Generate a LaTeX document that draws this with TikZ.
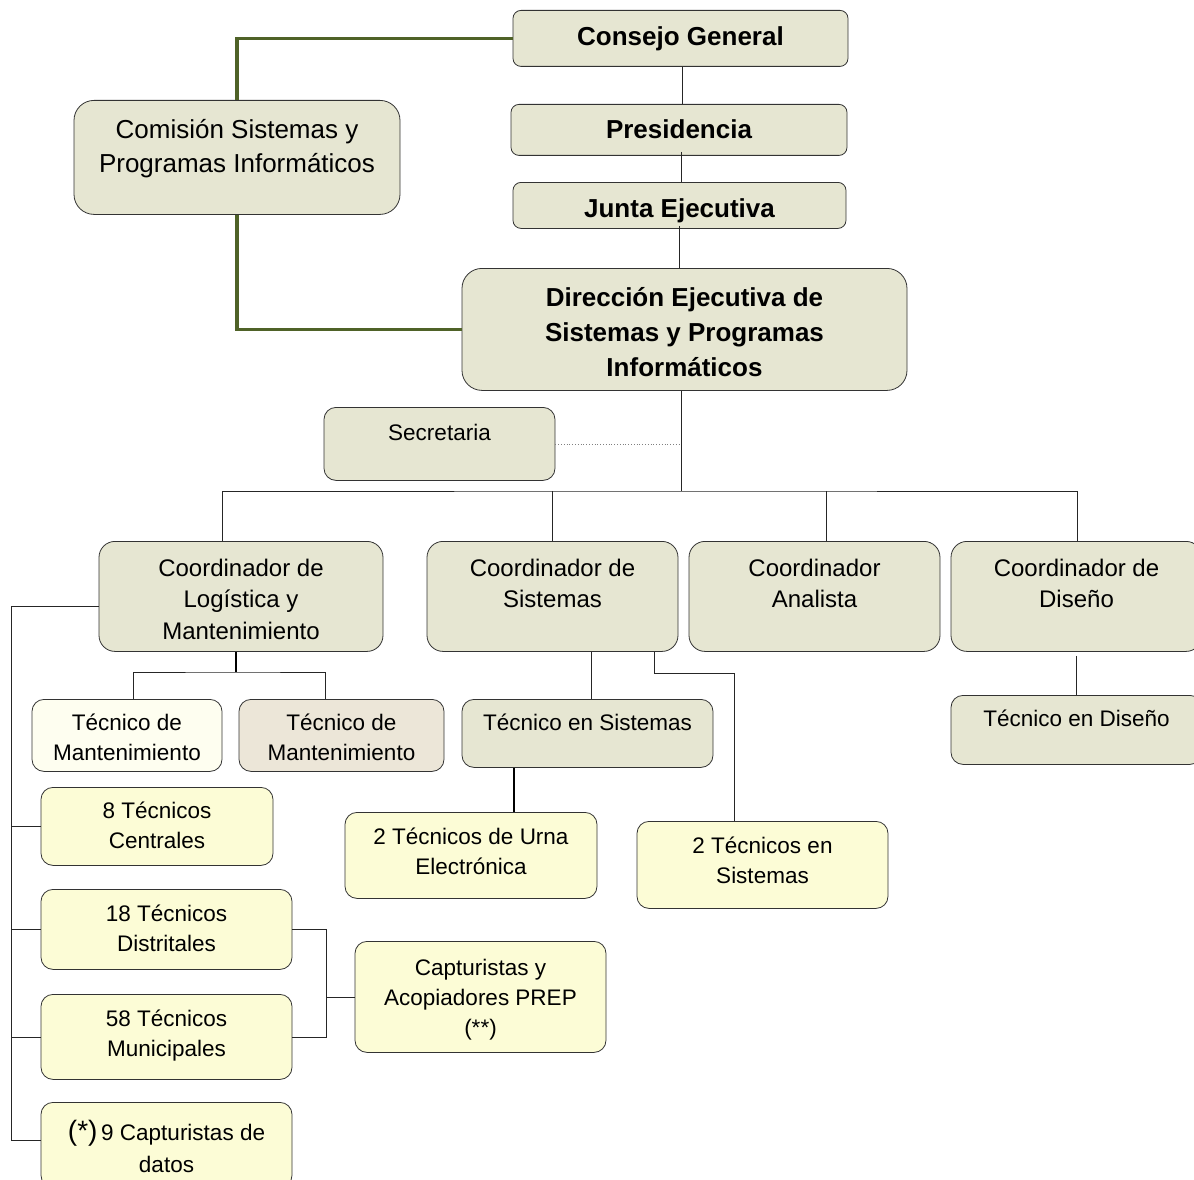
\documentclass[tikz,border=0pt]{standalone}
\usepackage{fontspec}
\setmainfont{Liberation Sans}
\usepackage{xcolor}
\definecolor{boxgray}{RGB}{230,230,210}
\definecolor{boxyel}{RGB}{252,252,214}
\definecolor{mantA}{RGB}{254,254,240}
\definecolor{mantB}{RGB}{236,230,216}
\definecolor{lnkgreen}{RGB}{79,98,40}
\tikzset{
  orgbox/.style={draw=black!80, line width=0.8pt, rounded corners=12pt, fill=boxgray,
    align=center, anchor=north, inner xsep=0pt, inner ysep=0pt},
  topbox/.style={orgbox, rounded corners=8pt, font=\fontsize{26}{34}\selectfont\bfseries},
  coordbox/.style={orgbox, rounded corners=16pt, font=\fontsize{24}{31.5}\selectfont, text height=66.5pt, text depth=43.5pt, minimum width=251pt},
  lowbox/.style={orgbox, font=\fontsize{22.5}{30}\selectfont},
  yelbox/.style={lowbox, fill=boxyel, minimum width=251pt},
  thin link/.style={draw=black!85, line width=0.8pt},
  green link/.style={draw=lnkgreen, line width=3.5pt}
}
\begin{document}
\begin{tikzpicture}[x=1pt,y=1pt,yscale=-1]
\useasboundingbox (0,0) rectangle (1194,1180);
\clip (0,0) rectangle (1194,1180);

% Top boxes
\node[topbox, minimum width=335pt, text height=35pt, text depth=21pt] (consejo) at (680.5,10) {Consejo General};
\node[topbox, minimum width=336pt, text height=34pt, text depth=17pt] (presid) at (679,104) {Presidencia};
\node[topbox, minimum width=333pt, text height=35pt, text depth=11pt] (junta) at (679.5,182) {Junta Ejecutiva};
\node[orgbox, rounded corners=20pt, font=\fontsize{26}{34}\selectfont, minimum width=326pt, text height=72pt, text depth=42pt] (comis) at (237,100) {Comisión Sistemas y\\Programas Informáticos};
\node[topbox, rounded corners=20pt, font=\fontsize{26}{35}\selectfont\bfseries, minimum width=445pt, text height=108pt, text depth=14pt] (direc) at (684.5,268) {Dirección Ejecutiva de\\Sistemas y Programas\\Informáticos};
\node[lowbox, minimum width=231pt, text height=33pt, text depth=40pt] (secr) at (439.5,407) {Secretaria};

% Coordinadores
\node[coordbox, minimum width=284pt, text height=98pt, text depth=12pt] (clog) at (241,541) {Coordinador de\\Logística y\\Mantenimiento};
\node[coordbox] (csis) at (552.5,541) {Coordinador de\\Sistemas};
\node[coordbox] (cana) at (814.5,541) {Coordinador\\Analista};
\node[coordbox] (cdis) at (1076.5,541) {Coordinador de\\Diseño};

% Tecnicos
\node[lowbox, fill=mantA, minimum width=190pt, text height=61pt, text depth=11pt] (tm1) at (127,699) {Técnico de\\Mantenimiento};
\node[lowbox, fill=mantB, minimum width=205pt, text height=61pt, text depth=11pt] (tm2) at (341.5,699) {Técnico de\\Mantenimiento};
\node[lowbox, minimum width=251pt, text height=31pt, text depth=37pt] (tsis) at (587.5,699) {Técnico en Sistemas};
\node[lowbox, minimum width=251pt, text height=31pt, text depth=38pt] (tdis) at (1076.5,695) {Técnico en Diseño};
\node[yelbox, minimum width=232pt, text height=61pt, text depth=17pt] (c8) at (157,787) {8 Técnicos\\Centrales};
\node[yelbox, minimum width=252pt, text height=62pt, text depth=24pt] (urna) at (471,812) {2 Técnicos de Urna\\Electrónica};
\node[yelbox, text height=62pt, text depth=25pt] (c2s) at (762.5,821) {2 Técnicos en\\Sistemas};
\node[yelbox, text height=62pt, text depth=18pt] (c18) at (166.5,889) {18 Técnicos\\Distritales};
\node[yelbox, text height=94pt, text depth=17pt] (prep) at (480.5,941) {Capturistas y\\Acopiadores PREP\\(**)};
\node[yelbox, text height=62pt, text depth=23pt] (c58) at (166.5,994) {58 Técnicos\\Municipales};
\node[yelbox, font=\fontsize{22.5}{32}\selectfont, text height=70pt, text depth=15pt] (c9) at (166.5,1102) {{\fontsize{28}{30}\selectfont(*)}\,9 Capturistas de\\datos};

% Green links
\draw[green link] (consejo.west) -| (comis.north);
\draw[green link] (comis.south) |- (direc.west);

% Top chain
\draw[thin link] (consejo.south -| 682,0) -- (presid.north -| 682,0);
\draw[thin link] ([yshift=-4pt]presid.south -| 681,0) -- (junta.north -| 681,0);
\draw[thin link] ([yshift=-3pt]junta.south -| 679,0) -- (direc.north -| 679,0);
\draw[thin link] (direc.south -| 681,0) -- (681,491) coordinate (bus);
\draw[thin link, dotted, draw=gray] (secr.east) -- (secr.east -| bus);

% Bus to coordinadores
\draw[thin link] ([xshift=-19pt]clog.north) |- (bus) -| ([xshift=0.5pt]cdis.north);
\draw[thin link] (csis.north) -- (csis.north |- bus);
\draw[thin link] ([xshift=11.5pt]cana.north) -- ([xshift=11.5pt]cana.north |- bus);

% Logistica
\draw[line width=2pt] (clog.south -| 236,0) -- (236,672) coordinate (lm);
\draw[thin link] ([xshift=6pt]tm1.north) |- (lm) -| ([xshift=-16.5pt]tm2.north);
\coordinate (lbus) at (11,1140);
\draw[thin link] ([yshift=10pt]clog.west) -| (lbus) -- (c9.west |- lbus);
\foreach \n in {c8,c18,c58}
  \draw[thin link] (\n.west) -- (\n.west -| lbus);

% Sistemas
\draw[thin link] (csis.south -| 591,0) -- (tsis.north -| 591,0);
\draw[thin link] (csis.south -| 654,0) |- (734,673) -- (c2s.north -| 734,0);
\draw[line width=1.5pt] (tsis.south -| 514,0) -- (urna.north -| 514,0);

% Diseno
\draw[thin link] ([yshift=4pt]cdis.south) -- (tdis.north);

% PREP bracket
\draw[thin link] (c18.east) -| (326,1037) -- (c58.east |- 326,1037);
\draw[thin link] (prep.west) -- (prep.west -| 326,0);

\end{tikzpicture}
\end{document}
